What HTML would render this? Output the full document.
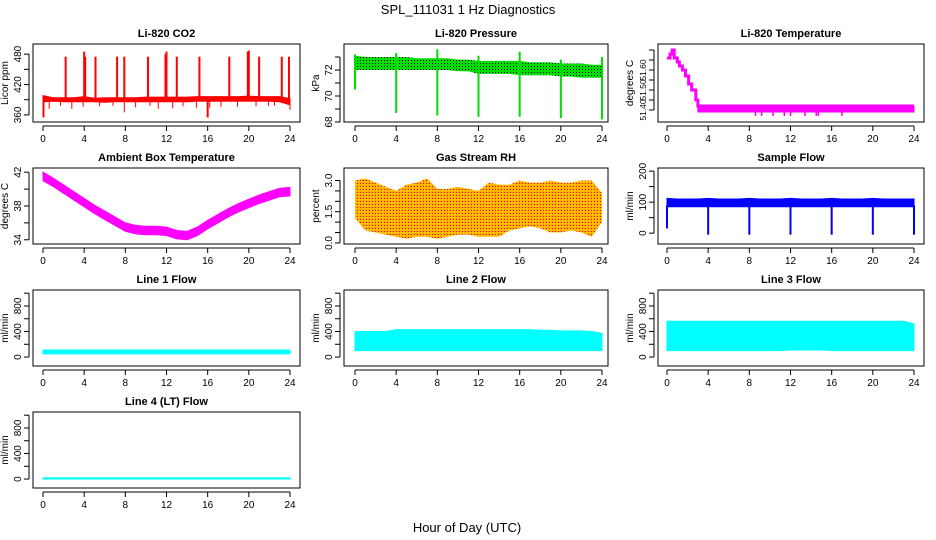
<!DOCTYPE html>
<html><head><meta charset="utf-8"><style>
body{margin:0;background:#fff}
svg{display:block;font-family:"Liberation Sans",sans-serif}
</style></head><body>
<svg id="chart" width="936" height="540" viewBox="0 0 936 540" xmlns="http://www.w3.org/2000/svg">
<defs>
<pattern id="pdots" width="3" height="3" patternUnits="userSpaceOnUse"><rect width="3" height="3" fill="#00dd00"/><rect width="1" height="1" fill="#000"/></pattern>
<pattern id="rhdots" width="3" height="3" patternUnits="userSpaceOnUse"><rect width="3" height="3" fill="#ffb000"/><rect width="1" height="1" fill="#ff0000"/><rect x="1" y="1" width="1" height="1" fill="#ffe000"/></pattern>
</defs>
<text x="468" y="14" text-anchor="middle" font-size="13">SPL_111031  1 Hz Diagnostics</text>
<text x="467" y="532" text-anchor="middle" font-size="13">Hour of Day (UTC)</text>
</svg>
<script>
const hours = [0,1,2,3,4,5,6,7,8,9,10,11,12,13,14,15,16,17,18,19,20,21,22,23,24];
const xTicks = [0,4,8,12,16,20,24];

const co2Upper = [398,394,394,394,396,393,394,394,394,394,395,395,395,395,395,396,396,396,396,396,397,396,396,396,392];
const co2Lower = [386,387,386,386,386,386,385,386,386,386,386,386,386,386,386,387,387,387,387,387,387,387,387,386,380];
const co2SpikeHours = [0.05,2.2,4.0,4.1,5.1,7.2,7.9,10.2,11.9,12.0,13.0,15.2,16.0,18.1,19.9,20.0,21.0,23.2,23.9];
const co2SpikeVals = [355,475,485,475,475,475,475,475,480,485,475,475,355,475,485,487,475,475,475];
const co2DipHours = [0.6,1.7,2.8,3.9,5.5,6.8,7.9,9.0,10.4,11.2,12.6,13.6,14.9,16.2,17.3,18.9,20.7,21.9,22.5,24];
const co2DipVals = [372,378,372,376,377,378,365,375,378,372,373,377,374,374,376,376,377,378,378,370];

const presUpper = [73.1,73.0,73.0,73.0,73.0,73.0,72.9,72.9,72.9,72.9,72.8,72.8,72.7,72.7,72.7,72.7,72.7,72.6,72.6,72.6,72.5,72.5,72.5,72.4,72.4];
const presLower = [72.0,72.0,72.0,72.0,72.0,72.0,72.0,72.0,72.0,72.0,71.9,71.9,71.7,71.7,71.7,71.7,71.6,71.6,71.6,71.6,71.5,71.5,71.4,71.4,71.4];
const presEventHours = [0,4,8,12,16,20,24];
const presDropVals = [70.5,68.7,68.5,68.4,68.4,68.3,68.2];
const presPeakVals = [73.2,73.3,73.6,73.1,73.4,72.8,73.0];

const liStepHours = [0,0.3,0.5,0.7,1.0,1.2,1.5,1.8,2.1,2.4,2.8,3.0,24];
const liStepVals = [51.66,51.68,51.70,51.66,51.64,51.62,51.60,51.57,51.53,51.50,51.45,51.42,51.42];
const liBandLow = 51.39;
const liDipHours = [8.6,9.2,10.3,11.4,12,13.4,14.5,14.7,17];
const liDipVals = [51.37,51.37,51.37,51.37,51.37,51.37,51.37,51.37,51.37];

const ambMid = [41.5,40.8,40.0,39.2,38.4,37.6,36.9,36.2,35.5,35.2,35.1,35.1,35.0,34.6,34.5,35.0,35.8,36.5,37.2,37.8,38.3,38.8,39.2,39.6,39.7];

const rhUpper = [3.0,3.1,2.9,2.7,2.5,2.8,2.9,3.1,2.6,2.6,2.7,2.6,2.5,2.9,2.8,2.8,3.0,2.9,2.9,3.0,2.9,2.9,3.0,3.0,2.4];
const rhLower = [1.2,0.6,0.5,0.4,0.3,0.2,0.3,0.3,0.2,0.3,0.4,0.4,0.3,0.3,0.3,0.6,0.7,0.8,0.7,0.5,0.5,0.6,0.5,0.3,1.0];

const flowUpper = [112,110,110,110,112,110,110,110,112,110,110,110,112,110,110,110,112,110,110,110,112,110,110,110,110];
const flowLower = [85,85,85,85,85,85,85,85,85,85,85,85,85,85,85,85,85,85,85,85,85,85,85,85,85];
const flowDropHours = [0,4,8,12,16,20,24];
const flowDropVals = [15,-5,-5,-5,-5,-5,-5];

const line1Upper = [110,110,110,110,110,110,110,110,110,110,110,110,110,110,110,110,110,110,110,110,110,110,110,110,110];
const line1Lower = [50,50,50,50,50,50,50,50,50,50,50,50,50,50,50,50,50,50,50,50,50,50,50,50,50];
const line2Upper = [400,400,400,400,430,430,430,430,430,430,430,430,430,430,430,430,430,430,420,420,410,410,410,400,370];
const line2Lower = [100,100,100,100,100,100,100,100,100,100,100,100,100,100,100,100,100,100,100,100,100,100,100,100,100];
const line3Upper = [560,560,560,560,560,560,560,560,560,560,560,560,560,560,560,560,560,560,560,560,560,560,560,560,520];
const line3Lower = [100,100,100,100,100,100,100,100,100,100,100,100,110,110,110,110,100,100,100,100,100,100,100,100,100];
const line4Upper = [20,20,20,20,20,20,20,20,20,20,20,20,20,20,20,20,20,20,20,20,20,20,20,20,20];
const line4Lower = [0,0,0,0,0,0,0,0,0,0,0,0,0,0,0,0,0,0,0,0,0,0,0,0,0];

const NS='http://www.w3.org/2000/svg';
const svg=document.getElementById('chart');
function mk(tag,attrs,parent){const e=document.createElementNS(NS,tag);for(const k in attrs)e.setAttribute(k,attrs[k]);(parent||svg).appendChild(e);return e;}

const cols=[{l:33,r:300,x0:43,x1:290},{l:344,r:608,x0:355,x1:602},{l:658,r:924,x0:667,x1:914}];
const rows=[{t:44,b:122},{t:168,b:244},{t:290,b:366},{t:412,b:488}];

function panel(name,title,ylab,c,r,ymin,ymax,ticks,labels,lfs){
  const C=cols[c],R=rows[r];
  const g=mk('g',{});
  
  
  const sx=h=>C.x0+(C.x1-C.x0)*h/24;
  const sy=v=>R.b-(R.b-R.t)*(v-ymin)/(ymax-ymin);
  const t=mk('text',{x:(C.l+C.r)/2,y:R.t-7,'text-anchor':'middle','font-size':11,'font-weight':'bold'},g);
  t.textContent=title;
  
  
  const box=mk('rect',{x:C.l,y:R.t,width:C.r-C.l,height:R.b-R.t,fill:'none',stroke:'#000','stroke-width':1},g);
  
  
  const plot=mk('g',{},g);
  const ax=mk('g',{},g);
  
  
  mk('line',{x1:sx(0),x2:sx(24),y1:R.b+4,y2:R.b+4,stroke:'#000'},ax);
  xTicks.forEach(h=>{mk('line',{x1:sx(h),x2:sx(h),y1:R.b+4,y2:R.b+9,stroke:'#000'},ax);
    const tl=mk('text',{x:sx(h),y:R.b+20,'text-anchor':'middle','font-size':10},ax);tl.textContent=h;});
  const ay=mk('g',{},g);
  
  
  const ax0=C.l-4;
  mk('line',{x1:ax0,x2:ax0,y1:sy(ticks[0]),y2:sy(ticks[ticks.length-1]),stroke:'#000'},ay);
  ticks.forEach(v=>{mk('line',{x1:ax0-5,x2:ax0,y1:sy(v),y2:sy(v),stroke:'#000'},ay);});
  labels.forEach(v=>{const y=sy(v);const tl=mk('text',{x:ax0-8,y:y,'text-anchor':'middle','font-size':lfs||10,transform:`rotate(-90 ${ax0-8} ${y})`},ay);tl.textContent=v.toFixed?v.toFixed(labels.dec||0):v;});
  const yl=mk('text',{x:C.l-25,y:(R.t+R.b)/2,'text-anchor':'middle','font-size':10,transform:`rotate(-90 ${C.l-25} ${(R.t+R.b)/2})`},g);
  yl.textContent=ylab;
  
  
  return {sx,sy,plot};
}
function band(p,xs,up,lo,fill,name){
  let d='M'+xs.map((h,i)=>p.sx(h)+','+p.sy(up[i])).join('L');
  d+='L'+xs.map((h,i)=>p.sx(h)+','+p.sy(lo[i])).reverse().join('L')+'Z';
  const e=mk('path',{d:d,fill:fill,stroke:fill.startsWith('url')?'none':fill,'stroke-width':1},p.plot);
  
  
}
function spikes(p,xs,base,vals,color,w,name){
  xs.forEach((h,i)=>{const b=Array.isArray(base)?base[i]:base;
    const e=mk('line',{x1:p.sx(h),x2:p.sx(h),y1:p.sy(b),y2:p.sy(vals[i]),stroke:color,'stroke-width':w},p.plot);
    
    });
}
function lab(a,dec){a.dec=dec;return a;}

let p=panel('co2','Li-820 CO2','Licor ppm',0,0,346,500,[360,390,420,450,480],[360,420,480]);
band(p,hours,co2Upper,co2Lower,'#ff0000','co2-band');
spikes(p,co2SpikeHours,390,co2SpikeVals,'#ff0000',2,'co2-spike');
spikes(p,co2DipHours,388,co2DipVals,'#ff0000',1,'co2-dip');

p=panel('pressure','Li-820 Pressure','kPa',1,0,68,74,[68,69,70,71,72,73],[68,70,72]);
band(p,hours,presUpper,presLower,'url(#pdots)','pressure-band');
spikes(p,presEventHours,presPeakVals,presDropVals,'#00dd00',2,'pressure-drop');

p=panel('li820-temp','Li-820 Temperature','degrees C',2,0,51.34,51.73,[51.40,51.45,51.50,51.55,51.60,51.65,51.70],lab([51.40,51.50,51.60],2),8.5);
(function(){let d='';liStepHours.forEach((h,i)=>{if(i===0)d+='M'+p.sx(h)+','+p.sy(liStepVals[i]);else d+='H'+p.sx(h)+'V'+p.sy(liStepVals[i]);});
 const e=mk('path',{d:d,fill:'none',stroke:'#ff00ff','stroke-width':3},p.plot);
 
 })();
band(p,[3,24],[51.42,51.42],[liBandLow,liBandLow],'#ff00ff','li820-temp-band');
spikes(p,liDipHours,liBandLow,liDipVals,'#ff00ff',1.5,'li820-temp-dip');

p=panel('ambient-temp','Ambient Box Temperature','degrees C',0,1,33.5,42.5,[34,36,38,40,42],[34,38,42]);
band(p,hours,ambMid.map(v=>v+0.5),ambMid.map(v=>v-0.5),'#ff00ff','ambient-temp-band');

p=panel('rh','Gas Stream RH','percent',1,1,-0.05,3.6,[0,0.5,1,1.5,2,2.5,3],lab([0,1.5,3.0],1));
band(p,hours,rhUpper,rhLower,'url(#rhdots)','rh-band');

p=panel('sample-flow','Sample Flow','ml/min',2,1,-35,210,[0,50,100,150,200],[0,100,200]);
band(p,hours,flowUpper,flowLower,'#0000ff','sample-flow-band');
spikes(p,flowDropHours,90,flowDropVals,'#0000ff',2,'sample-flow-drop');

const lt=[0,200,400,600,800,1000],ll=[0,400,800];
p=panel('line1-flow','Line 1 Flow','ml/min',0,2,-140,1050,lt,ll);
band(p,hours,line1Upper,line1Lower,'#00ffff','line1-flow-band');
p=panel('line2-flow','Line 2 Flow','ml/min',1,2,-140,1050,lt,ll);
band(p,hours,line2Upper,line2Lower,'#00ffff','line2-flow-band');
p=panel('line3-flow','Line 3 Flow','ml/min',2,2,-140,1050,lt,ll);
band(p,hours,line3Upper,line3Lower,'#00ffff','line3-flow-band');
p=panel('line4-flow','Line 4 (LT) Flow','ml/min',0,3,-140,1050,lt,ll);
band(p,hours,line4Upper,line4Lower,'#00ffff','line4-flow-band');
</script>
</body></html>
